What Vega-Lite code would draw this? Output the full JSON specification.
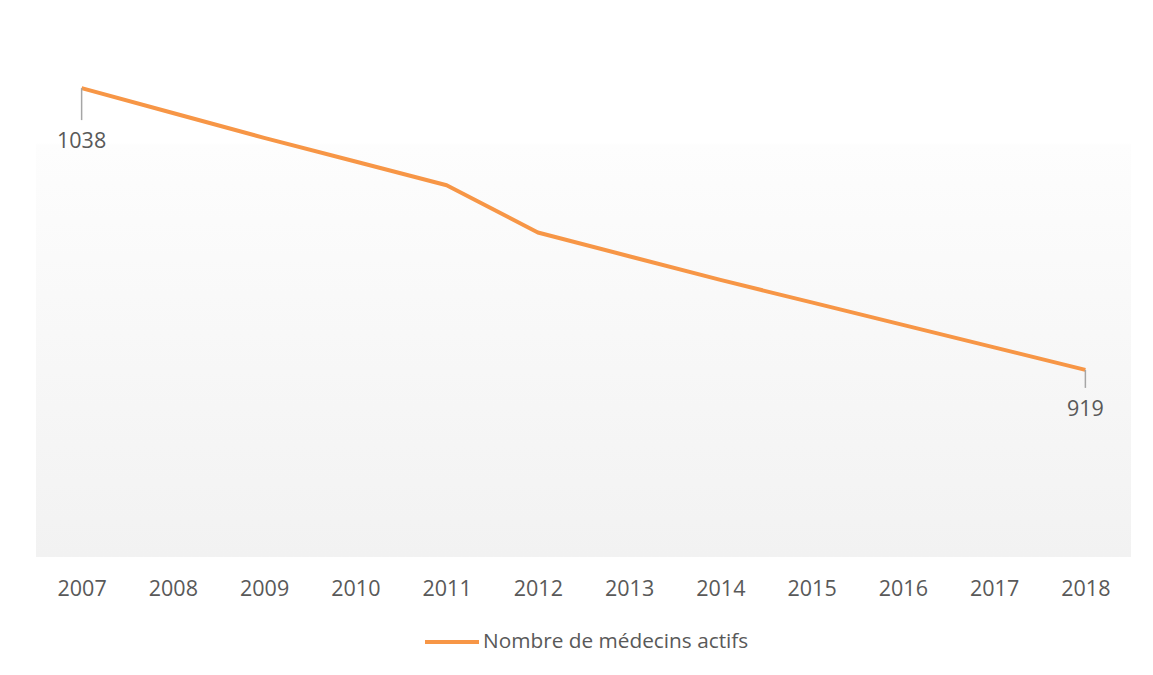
{
  "$schema": "https://vega.github.io/schema/vega-lite/v6.json",
  "width": 1095,
  "height": 521,
  "autosize": "none",
  "padding": {"left": 36, "top": 36, "right": 22, "bottom": 118},
  "background": "#ffffff",
  "config": {
    "view": {
      "stroke": null,
      "fill": {
        "gradient": "linear", "x1": 0, "y1": 0, "x2": 0, "y2": 1,
        "stops": [
          {"offset": 0, "color": "#ffffff"},
          {"offset": 0.205, "color": "#ffffff"},
          {"offset": 0.21, "color": "#fdfdfd"},
          {"offset": 1, "color": "#f2f2f2"}
        ]
      }
    },
    "font": "Open Sans"
  },
  "data": {
    "values": [
      {"year": 2007, "value": 1038, "serie": "Nombre de médecins actifs"},
      {"year": 2008, "value": 1027.5, "serie": "Nombre de médecins actifs"},
      {"year": 2009, "value": 1017, "serie": "Nombre de médecins actifs"},
      {"year": 2010, "value": 1007, "serie": "Nombre de médecins actifs"},
      {"year": 2011, "value": 997, "serie": "Nombre de médecins actifs"},
      {"year": 2012, "value": 977, "serie": "Nombre de médecins actifs"},
      {"year": 2013, "value": 967, "serie": "Nombre de médecins actifs"},
      {"year": 2014, "value": 957, "serie": "Nombre de médecins actifs"},
      {"year": 2015, "value": 947.5, "serie": "Nombre de médecins actifs"},
      {"year": 2016, "value": 938, "serie": "Nombre de médecins actifs"},
      {"year": 2017, "value": 928.5, "serie": "Nombre de médecins actifs"},
      {"year": 2018, "value": 919, "serie": "Nombre de médecins actifs"}
    ]
  },
  "layer": [
    {
      "mark": {"type": "line", "strokeWidth": 4, "strokeJoin": "round"},
      "encoding": {
        "x": {
          "field": "year", "type": "quantitative",
          "scale": {"domain": [2006.5, 2018.5], "nice": false, "zero": false},
          "axis": {
            "values": [2007, 2008, 2009, 2010, 2011, 2012, 2013, 2014, 2015, 2016, 2017, 2018],
            "format": "d", "title": null, "domain": false, "ticks": false, "grid": false,
            "labelFontSize": 21.5, "labelColor": "#595959", "labelFont": "Open Sans",
            "labelPadding": 21, "labelFlush": false
          }
        },
        "y": {
          "field": "value", "type": "quantitative",
          "scale": {"domain": [840, 1060], "nice": false, "zero": false},
          "axis": null
        },
        "color": {
          "field": "serie", "type": "nominal",
          "scale": {"range": ["#f79646"]},
          "legend": {
            "title": null, "orient": "none", "legendX": 387, "legendY": 577,
            "symbolType": "stroke", "symbolSize": 2916, "symbolStrokeWidth": 4,
            "labelFontSize": 20.8, "labelColor": "#595959", "labelFont": "Open Sans",
            "labelOffset": 2, "labelLimit": 0
          }
        }
      }
    },
    {
      "transform": [{"filter": "datum.year == 2007"}],
      "mark": {"type": "rule", "color": "#a6a6a6", "strokeWidth": 1.5, "y2Offset": 32},
      "encoding": {
        "x": {"field": "year", "type": "quantitative"},
        "y": {"field": "value", "type": "quantitative"},
        "y2": {"field": "value"}
      }
    },
    {
      "transform": [{"filter": "datum.year == 2018"}],
      "mark": {"type": "rule", "color": "#a6a6a6", "strokeWidth": 1.5, "y2Offset": 18},
      "encoding": {
        "x": {"field": "year", "type": "quantitative"},
        "y": {"field": "value", "type": "quantitative"},
        "y2": {"field": "value"}
      }
    },
    {
      "transform": [{"filter": "datum.year == 2007"}],
      "mark": {"type": "text", "fontSize": 21.5, "color": "#595959", "font": "Open Sans", "baseline": "middle", "dy": 54},
      "encoding": {
        "x": {"field": "year", "type": "quantitative"},
        "y": {"field": "value", "type": "quantitative"},
        "text": {"field": "value", "type": "quantitative", "format": "d"}
      }
    },
    {
      "transform": [{"filter": "datum.year == 2018"}],
      "mark": {"type": "text", "fontSize": 21.5, "color": "#595959", "font": "Open Sans", "baseline": "middle", "dy": 40},
      "encoding": {
        "x": {"field": "year", "type": "quantitative"},
        "y": {"field": "value", "type": "quantitative"},
        "text": {"field": "value", "type": "quantitative", "format": "d"}
      }
    }
  ]
}
